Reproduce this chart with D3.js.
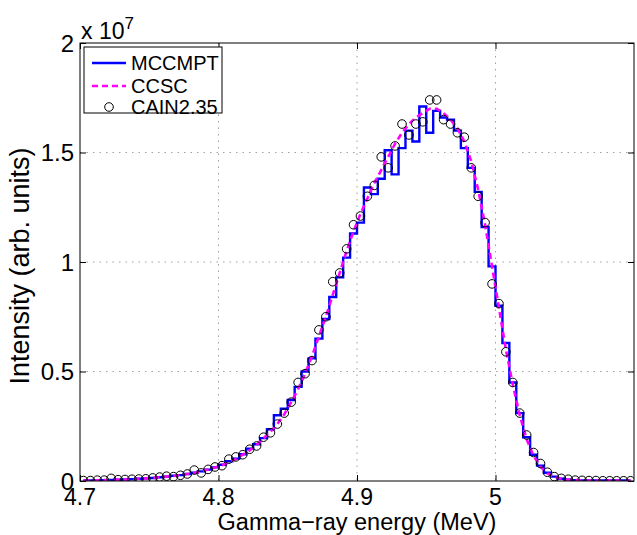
<!DOCTYPE html>
<html>
<head>
<meta charset="utf-8">
<script src="https://cdn.jsdelivr.net/npm/d3@7"></script>
<style>
  body { margin: 0; background: #fff; }
  svg text { font-family: "Liberation Sans", Arial, Helvetica, sans-serif; fill: #000; }
</style>
</head>
<body>
<svg id="chart" width="637" height="535"></svg>
<script>
// intensity values in units of 1e7, one per 0.005 MeV bin (4.70 .. 5.10 MeV)
const mccmpt = [
  0.002, 0.003, 0.003, 0.004, 0.005, 0.006, 0.007, 0.008, 0.010, 0.012,
  0.014, 0.017, 0.020, 0.024, 0.027, 0.032, 0.038, 0.044, 0.052, 0.062,
  0.074, 0.090, 0.102, 0.122, 0.148, 0.168, 0.196, 0.236, 0.300, 0.330,
  0.370, 0.430, 0.500, 0.560, 0.650, 0.740, 0.840, 0.930, 1.020, 1.130,
  1.180, 1.340, 1.310, 1.380, 1.510, 1.400, 1.520, 1.600, 1.550, 1.710,
  1.590, 1.690, 1.660, 1.650, 1.600, 1.520, 1.430, 1.320, 1.160, 0.980,
  0.800, 0.630, 0.450, 0.310, 0.200, 0.120, 0.070, 0.038, 0.020, 0.010,
  0.006, 0.004, 0.003, 0.002, 0.002, 0.002, 0.002, 0.002, 0.002, 0.002
];
const ccsc = [
  0.002, 0.003, 0.003, 0.004, 0.005, 0.006, 0.007, 0.008, 0.010, 0.012,
  0.014, 0.017, 0.020, 0.023, 0.027, 0.032, 0.037, 0.044, 0.052, 0.062,
  0.072, 0.085, 0.100, 0.120, 0.140, 0.165, 0.195, 0.225, 0.260, 0.305,
  0.360, 0.420, 0.490, 0.570, 0.660, 0.750, 0.850, 0.950, 1.050, 1.140,
  1.220, 1.290, 1.360, 1.420, 1.480, 1.540, 1.590, 1.630, 1.660, 1.680,
  1.700, 1.700, 1.680, 1.650, 1.610, 1.550, 1.460, 1.330, 1.170, 0.980,
  0.790, 0.600, 0.440, 0.300, 0.190, 0.115, 0.065, 0.035, 0.018, 0.010,
  0.006, 0.004, 0.003, 0.002, 0.002, 0.002, 0.002, 0.002, 0.002, 0.002
];
const cain = [
  0.002, 0.002, 0.004, 0.004, 0.012, 0.006, 0.007, 0.008, 0.009, 0.010,
  0.014, 0.018, 0.022, 0.020, 0.026, 0.032, 0.050, 0.037, 0.053, 0.064,
  0.070, 0.100, 0.110, 0.120, 0.145, 0.160, 0.200, 0.220, 0.260, 0.310,
  0.360, 0.450, 0.490, 0.550, 0.690, 0.750, 0.910, 0.950, 1.060, 1.170,
  1.210, 1.300, 1.350, 1.480, 1.430, 1.530, 1.630, 1.580, 1.630, 1.640,
  1.740, 1.740, 1.650, 1.630, 1.590, 1.570, 1.430, 1.300, 1.180, 0.900,
  0.810, 0.590, 0.450, 0.310, 0.210, 0.130, 0.080, 0.040, 0.020, 0.012,
  0.008, 0.004, 0.003, 0.002, 0.002, 0.001, 0.001, 0.001, 0.001, 0.001
];
const energy = d3.range(mccmpt.length).map(i => 4.7025 + 0.005 * i);

const xTicks = [4.7, 4.8, 4.9, 5.0];
const xTickLabels = ['4.7', '4.8', '4.9', '5'];
const yTicks = [0, 0.5, 1, 1.5, 2];
const yTickLabels = ['0', '0.5', '1', '1.5', '2'];
const legendNames = ['MCCMPT', 'CCSC', 'CAIN2.35'];

const svg = d3.select('#chart');
const margin = { top: 43, right: 3, bottom: 54, left: 80 };
const width = 637, height = 535;
const innerW = width - margin.left - margin.right;
const innerH = height - margin.top - margin.bottom;

const x = d3.scaleLinear().domain([4.7, 5.1]).range([0, innerW]);
const y = d3.scaleLinear().domain([0, 2]).range([innerH, 0]);

const g = svg.append('g').attr('transform', `translate(${margin.left},${margin.top})`);

svg.append('defs').append('clipPath').attr('id', 'clip')
  .append('rect').attr('width', innerW).attr('height', innerH);

// dotted grid
g.append('g').selectAll('line').data(xTicks.slice(1)).join('line')
  .attr('x1', d => x(d)).attr('x2', d => x(d)).attr('y1', 0).attr('y2', innerH)
  .attr('stroke', '#a0a0a0').attr('stroke-width', 1).attr('stroke-dasharray', '1.5,5');
g.append('g').selectAll('line').data(yTicks.slice(1, -1)).join('line')
  .attr('y1', d => y(d)).attr('y2', d => y(d)).attr('x1', 0).attr('x2', innerW)
  .attr('stroke', '#a0a0a0').attr('stroke-width', 1).attr('stroke-dasharray', '1.5,5');

// series
const plot = g.append('g').attr('clip-path', 'url(#clip)');
plot.append('path')
  .datum(mccmpt)
  .attr('fill', 'none').attr('stroke', '#0000ff').attr('stroke-width', 2.4)
  .attr('d', d3.line().x((d, i) => x(energy[i])).y(d => y(d)).curve(d3.curveStep));
plot.append('path')
  .datum(ccsc)
  .attr('fill', 'none').attr('stroke', '#ff00ff').attr('stroke-width', 2.6)
  .attr('stroke-dasharray', '6,4')
  .attr('d', d3.line().x((d, i) => x(energy[i])).y(d => y(d)));
plot.append('g').selectAll('circle').data(cain).join('circle')
  .attr('cx', (d, i) => x(energy[i])).attr('cy', d => y(d)).attr('r', 4.3)
  .attr('fill', 'none').attr('stroke', '#000').attr('stroke-width', 1);

// axes box + inward ticks
g.append('rect').attr('width', innerW).attr('height', innerH)
  .attr('fill', 'none').attr('stroke', '#000').attr('stroke-width', 1);
const tl = 6;
g.append('g').call(d3.axisBottom(x).tickValues(xTicks).tickSize(-tl).tickFormat(''))
  .attr('transform', `translate(0,${innerH})`).call(s => s.select('.domain').remove());
g.append('g').call(d3.axisTop(x).tickValues(xTicks).tickSize(-tl).tickFormat(''))
  .call(s => s.select('.domain').remove());
g.append('g').call(d3.axisLeft(y).tickValues(yTicks).tickSize(-tl).tickFormat(''))
  .call(s => s.select('.domain').remove());
g.append('g').call(d3.axisRight(y).tickValues(yTicks).tickSize(-tl).tickFormat(''))
  .attr('transform', `translate(${innerW},0)`).call(s => s.select('.domain').remove());

// tick labels
g.append('g').selectAll('text').data(xTicks).join('text')
  .attr('x', d => x(d)).attr('y', innerH + 24)
  .attr('text-anchor', 'middle').attr('font-size', 23)
  .text((d, i) => xTickLabels[i]);
g.append('g').selectAll('text').data(yTicks).join('text')
  .attr('x', -6).attr('y', d => y(d)).attr('dy', '0.36em')
  .attr('text-anchor', 'end').attr('font-size', 24)
  .text((d, i) => yTickLabels[i]);

// exponent
const ex = g.append('text').attr('x', 1).attr('y', -4).attr('font-size', 23);
ex.append('tspan').text('x 10');
ex.append('tspan').attr('dy', -10).attr('font-size', 17).text('7');

// axis labels
g.append('text').attr('x', innerW / 2).attr('y', innerH + 49)
  .attr('text-anchor', 'middle').attr('font-size', 23.5)
  .text('Gamma\u2212ray energy (MeV)');
g.append('text').attr('transform', 'rotate(-90)')
  .attr('x', -innerH / 2 - 4).attr('y', -51)
  .attr('text-anchor', 'middle').attr('font-size', 27)
  .text('Intensity (arb. units)');

// legend
const lg = g.append('g').attr('transform', 'translate(4,4)');
lg.append('rect').attr('width', 138).attr('height', 66)
  .attr('fill', '#fff').attr('stroke', '#000').attr('stroke-width', 1);
const rowY = [16, 39, 60];
lg.append('line').attr('x1', 8).attr('x2', 42).attr('y1', rowY[0]).attr('y2', rowY[0])
  .attr('stroke', '#0000ff').attr('stroke-width', 2.4);
lg.append('line').attr('x1', 8).attr('x2', 42).attr('y1', rowY[1]).attr('y2', rowY[1])
  .attr('stroke', '#ff00ff').attr('stroke-width', 2.6).attr('stroke-dasharray', '6,4');
lg.append('circle').attr('cx', 25).attr('cy', rowY[2]).attr('r', 4.3)
  .attr('fill', 'none').attr('stroke', '#000');
lg.selectAll('text.lab').data(legendNames).join('text')
  .attr('class', 'lab').attr('x', 47).attr('y', (d, i) => rowY[i]).attr('dy', '0.36em')
  .attr('font-size', 20).text(d => d);
</script>
</body>
</html>
